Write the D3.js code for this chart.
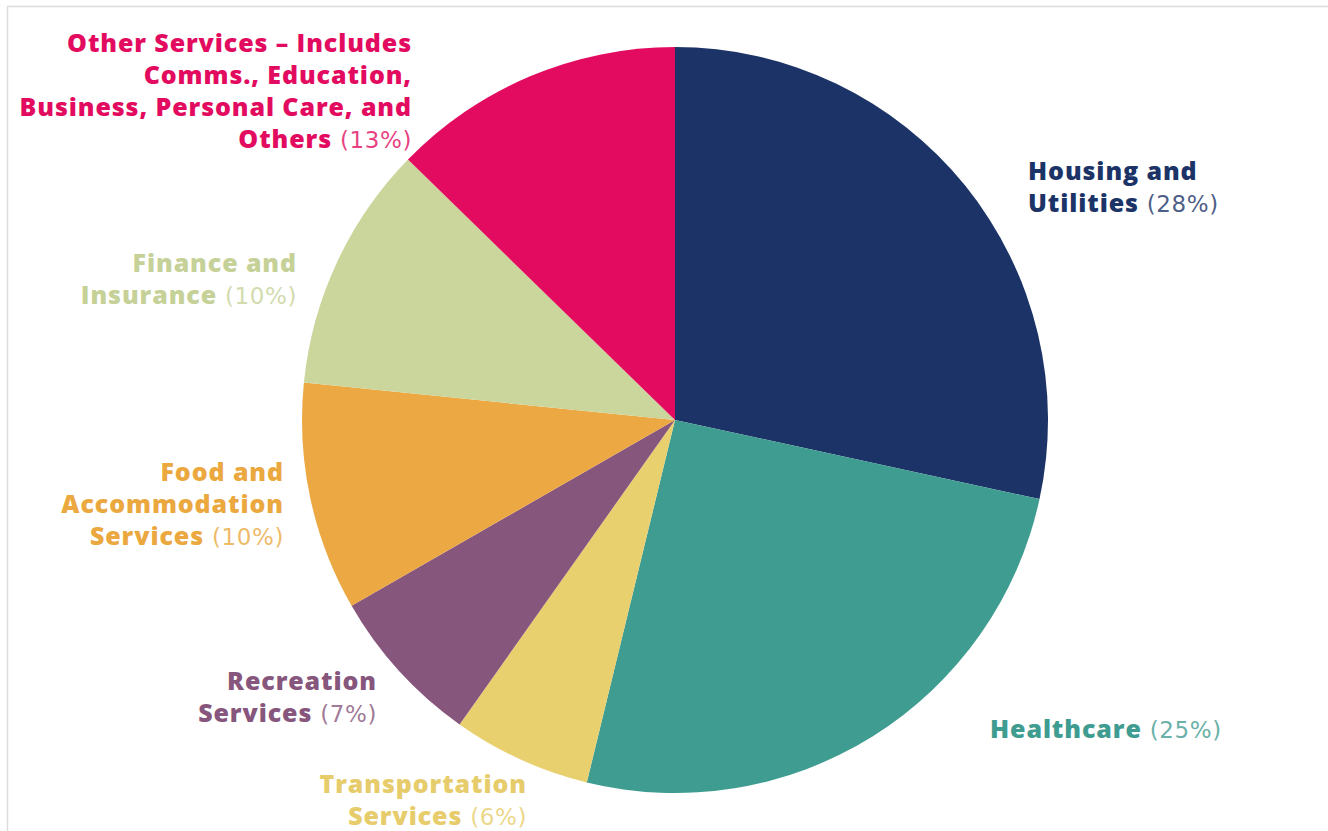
<!DOCTYPE html>
<html>
<head>
<meta charset="utf-8">
<script src="https://cdn.jsdelivr.net/npm/d3@7"></script>
<style>
  html, body { margin: 0; padding: 0; background: #fff; }
  svg { display: block; }
</style>
</head>
<body>
<div id="chart"></div>
<script>
// Slices, clockwise from 12 o'clock
const categories = [
    "Housing and Utilities",
    "Healthcare",
    "Transportation Services",
    "Recreation Services",
    "Food and Accommodation Services",
    "Finance and Insurance",
    "Other Services – Includes Comms., Education, Business, Personal Care, and Others"
];

// share of spending
const shares = [28.4, 25.4, 6.0, 6.9, 9.9, 10.7, 12.7];

// percentages as printed in the labels
const shownPct = ["28%", "25%", "6%", "7%", "10%", "10%", "13%"];

// label lines (last line gets the percentage appended)
const labelLines = [
    ["Housing and", "Utilities"],
    ["Healthcare"],
    ["Transportation", "Services"],
    ["Recreation", "Services"],
    ["Food and", "Accommodation", "Services"],
    ["Finance and", "Insurance"],
    ["Other Services – Includes", "Comms., Education,", "Business, Personal Care, and", "Others"]
];

const colors = ["#1b3366", "#3f9c91", "#e9d06f", "#87567d", "#eca943", "#cbd69c", "#e20b5f"];
const textColors = ["#1b3366", "#3f9c91", "#e6cc6a", "#87567d", "#eaa83f", "#c6d198", "#e20b5f"];

// label anchor: x, first baseline y, text-anchor
const labelPos = [
    { x: 1028, y: 180, anchor: "start" },
    { x: 990, y: 738, anchor: "start" },
    { x: 527, y: 793, anchor: "end" },
    { x: 377, y: 690, anchor: "end" },
    { x: 284, y: 481, anchor: "end" },
    { x: 297, y: 272, anchor: "end" },
    { x: 412, y: 52, anchor: "end" }
];

const width = 1328;
const height = 831;
const cx = 675, cy = 420, radius = 373;
const lineH = 32;

const svg = d3.select("#chart")
    .append("svg")
    .attr("width", width)
    .attr("height", height);

// thin frame of the original screenshot
svg.append("rect")
    .attr("x", 7.5)
    .attr("y", 6.5)
    .attr("width", width + 20)
    .attr("height", height + 20)
    .attr("fill", "none")
    .attr("stroke", "#dcdcdc")
    .attr("stroke-width", 1.5);

const data = categories.map((c, i) => ({ name: c, value: shares[i], i }));

const pie = d3.pie()
    .sort(null)
    .value(d => d.value);

const arc = d3.arc()
    .innerRadius(0)
    .outerRadius(radius);

const g = svg.append("g")
    .attr("transform", `translate(${cx},${cy})`);

g.selectAll("path")
    .data(pie(data))
    .join("path")
    .attr("d", arc)
    .attr("fill", d => colors[d.data.i]);

// --- labels ---
const labels = svg.append("g")
    .style("font-family", "'Open Sans', sans-serif")
    .style("font-size", "25px");

data.forEach(d => {
    const p = labelPos[d.i];
    const lines = labelLines[d.i];
    const t = labels.append("text")
        .attr("text-anchor", p.anchor)
        .attr("fill", textColors[d.i]);
    lines.forEach((ln, k) => {
        t.append("tspan")
            .attr("x", p.x)
            .attr("y", p.y + k * lineH)
            .attr("font-weight", 800)
            .attr("letter-spacing", 0.9)
            .text(ln);
        if (k === lines.length - 1) {
            t.append("tspan")
                .attr("font-family", "'DejaVu Sans', sans-serif")
                .attr("font-weight", 400)
                .attr("font-size", "23px")
                .attr("letter-spacing", 0.6)
                .attr("fill-opacity", 0.8)
                .text(" (" + shownPct[d.i] + ")");
        }
    });
});
</script>
</body>
</html>
